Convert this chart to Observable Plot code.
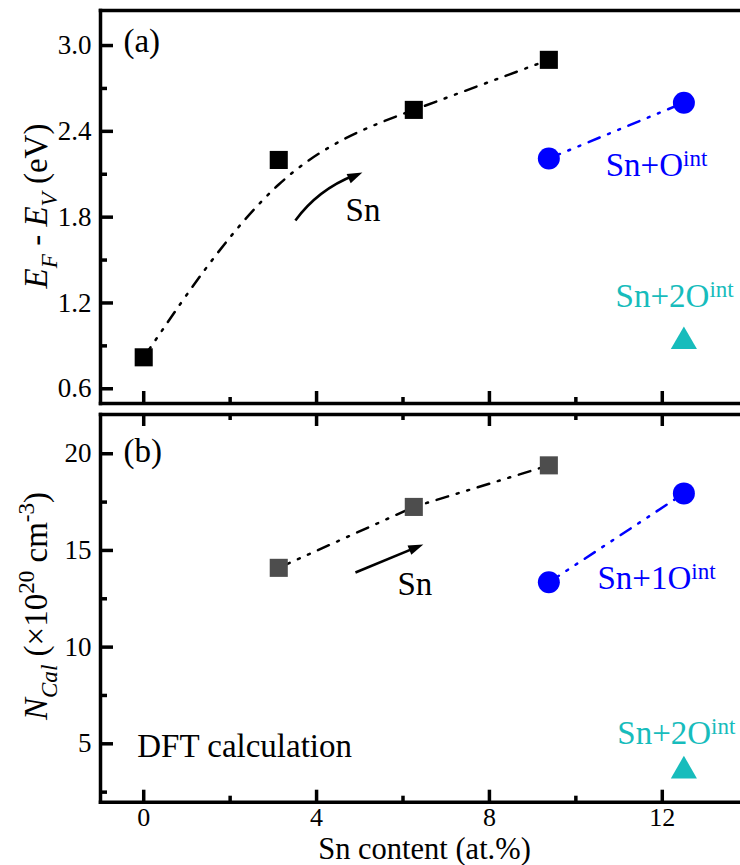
<!DOCTYPE html>
<html><head><meta charset="utf-8">
<script src="https://cdn.jsdelivr.net/npm/d3@7"></script>
<script src="https://cdn.jsdelivr.net/npm/@observablehq/plot@0.6"></script>
<style>
body{margin:0;background:#fff;}
#chart{width:740px;height:865px;background:#fff;}
#chart svg{display:block;}
</style></head><body><div id="chart"></div>
<script>
// ---- data ----
const snContent = [0, 3.125, 6.25, 9.375];
const efSn = [0.82, 2.20, 2.55, 2.90];
const oContent = [9.375, 12.5];
const efO = [2.21, 2.60];
const o2Content = [12.5];
const ef2O = [0.93];

const snContentB = [3.125, 6.25, 9.375];
const nSn = [14.1, 17.25, 19.4];
const oContentB = [9.375, 12.5];
const nO = [13.35, 17.95];
const o2ContentB = [12.5];
const n2O = [3.6];

const xTicks = [0, 4, 8, 12];
const xMinor = [2, 6, 10];
const yTicksA = [0.6, 1.2, 1.8, 2.4, 3.0];
const yMinorA = [0.9, 1.5, 2.1, 2.7];
const yTicksB = [5, 10, 15, 20];
const yMinorB = [2.5, 7.5, 12.5, 17.5];

const xLabel = "Sn content (at.%)";
const annA = [
  {label: "Sn+O", sup: "int", x: 12.48, y: 2.09, color: "#0000ff"},
  {label: "Sn+2O", sup: "int", x: 13.09, y: 1.17, color: "#17bcbc"}
];
const annB = [
  {label: "Sn+1O", sup: "int", x: 12.67, y: 13.02, color: "#0000ff"},
  {label: "Sn+2O", sup: "int", x: 13.13, y: 5.0, color: "#17bcbc"}
];
const textA = [{t: "(a)", x: -0.47, y: 2.958}, {t: "Sn", x: 4.67, y: 1.772}];
const textB = [{t: "(b)", x: -0.47, y: 19.55}, {t: "Sn", x: 5.87, y: 12.67}, {t: "DFT calculation", x: -0.15, y: 4.31}];
const arrowA = [{x1: 3.51, y1: 1.777, x2: 5.06, y2: 2.112}];
const arrowB = [{x1: 4.90, y1: 13.86, x2: 6.47, y2: 15.31}];

// ---- layout ----
const W = 740, ML = 100, MR = 0, FW = W - ML - MR;
const FONT = '"Liberation Serif","Times New Roman",serif';
const XDOM = [-1.0, 13.81];
const DASH = "12,9,2,9,2,9";
const BLUE = "#0000ff", CYAN = "#17bcbc", GRAY = "#4d4d4d";
const style = {fontFamily: FONT, fontSize: "27px", color: "#000", background: "#fff", overflow: "visible"};

// filled arrow head, tip at the origin, pointing up
const headSymbol = {draw(ctx) { ctx.moveTo(0, 0); ctx.lineTo(5, 15); ctx.lineTo(-5, 15); ctx.closePath(); }};

const pts = (xs, ys) => xs.map((x, i) => ({x, y: ys[i]}));

function annMarks(ann) {
  return [
    Plot.text(ann, {x: "x", y: "y", text: "label", fill: "color", textAnchor: "end", lineAnchor: "bottom", fontSize: 33, fontFamily: FONT}),
    Plot.text(ann, {x: "x", y: "y", text: "sup", fill: "color", textAnchor: "start", lineAnchor: "bottom", dy: -10, fontSize: 23, fontFamily: FONT})
  ];
}
function textMarks(arr) {
  return Plot.text(arr, {x: "x", y: "y", text: "t", textAnchor: "start", lineAnchor: "bottom", fontSize: 33, fill: "#000", fontFamily: FONT});
}
function arrowMarks(arr, bend, rotate) {
  return [
    Plot.arrow(arr, {x1: "x1", y1: "y1", x2: "x2", y2: "y2", bend, headLength: 0, insetEnd: 9, strokeWidth: 2.6, stroke: "#000", strokeLinecap: "butt"}),
    Plot.dot(arr, {x: "x2", y: "y2", symbol: headSymbol, rotate, fill: "#000", stroke: "none"})
  ];
}
function frameMarks() {
  return [
    Plot.frame({anchor: "top", stroke: "#000", strokeWidth: 3.5, strokeLinecap: "square"}),
    Plot.frame({anchor: "bottom", stroke: "#000", strokeWidth: 3.5, strokeLinecap: "square"}),
    Plot.frame({anchor: "left", stroke: "#000", strokeWidth: 3.5, strokeLinecap: "square"})
  ];
}
function richText(svg, x, y, parts, fs) {
  const t = d3.select(svg).append("text")
    .attr("transform", `translate(${x},${y}) rotate(-90)`)
    .attr("text-anchor", "middle").attr("font-family", FONT)
    .attr("font-size", fs).attr("fill", "#000");
  let shift = 0;
  for (const p of parts) {
    const ts = t.append("tspan").text(p.t);
    const target = p.sub ? 0.3 * fs : p.sup ? -0.38 * fs : 0;
    if (target - shift !== 0) ts.attr("dy", target - shift);
    shift = target;
    if (p.sub || p.sup) ts.attr("font-size", fs * 0.7);
    if (p.it) ts.attr("font-style", "italic");
  }
}

// ---- panel (a) ----
const HA = 406, MTA = 10, MBA = 3, PHA = HA - MTA - MBA;
const plotA = Plot.plot({
  width: W, height: HA, marginLeft: ML, marginRight: MR, marginTop: MTA, marginBottom: MBA,
  style,
  x: {domain: XDOM, axis: null},
  y: {domain: [0.497, 3.245], axis: null},
  marks: [
    Plot.line(pts(snContent, efSn), {x: "x", y: "y", curve: "basis", stroke: "#000", strokeWidth: 2.5, strokeDasharray: DASH}),
    Plot.line(pts(oContent, efO), {x: "x", y: "y", stroke: BLUE, strokeWidth: 2.5, strokeDasharray: DASH}),
    Plot.dot(pts(snContent, efSn), {x: "x", y: "y", symbol: "square", r: 10.2, fill: "#000"}),
    Plot.dot(pts(oContent, efO), {x: "x", y: "y", symbol: "circle", r: 11, fill: BLUE}),
    Plot.dot(pts(o2Content, ef2O), {x: "x", y: "y", symbol: "triangle", r: 9.7, fill: CYAN}),
    ...arrowMarks(arrowA, 18, 66),
    ...annMarks(annA),
    textMarks(textA),
    Plot.tickY(yTicksA, {y: d => d, insetRight: FW - 13, stroke: "#000", strokeWidth: 3.5}),
    Plot.tickY(yMinorA, {y: d => d, insetRight: FW - 7, stroke: "#000", strokeWidth: 3.5}),
    Plot.tickX(xTicks, {x: d => d, insetTop: PHA - 12, stroke: "#000", strokeWidth: 3.5}),
    Plot.tickX(xMinor, {x: d => d, insetTop: PHA - 6, stroke: "#000", strokeWidth: 3.5}),
    Plot.axisY(yTicksA, {tickSize: 0, tickPadding: 9, label: null, tickFormat: d3.format(".1f"), fontSize: 27, fontFamily: FONT}),
    ...frameMarks()
  ]
});
richText(plotA, 47, 206, [
  {t: "E", it: true}, {t: "F", it: true, sub: true}, {t: " - "},
  {t: "E", it: true}, {t: "V", it: true, sub: true}, {t: " (eV)"}
], 33);

// ---- panel (b) ----
const HB = 459, MTB = 8, MBB = 63.3, PHB = HB - MTB - MBB;
const plotB = Plot.plot({
  width: W, height: HB, marginLeft: ML, marginRight: MR, marginTop: MTB, marginBottom: MBB,
  style,
  x: {domain: XDOM, axis: null},
  y: {domain: [1.98, 22.03], axis: null},
  marks: [
    Plot.line(pts(snContentB, nSn), {x: "x", y: "y", stroke: "#000", strokeWidth: 2.5, strokeDasharray: DASH}),
    Plot.line(pts(oContentB, nO), {x: "x", y: "y", stroke: BLUE, strokeWidth: 2.5, strokeDasharray: DASH}),
    Plot.dot(pts(snContentB, nSn), {x: "x", y: "y", symbol: "square", r: 10.2, fill: GRAY}),
    Plot.dot(pts(oContentB, nO), {x: "x", y: "y", symbol: "circle", r: 11, fill: BLUE}),
    Plot.dot(pts(o2ContentB, n2O), {x: "x", y: "y", symbol: "triangle", r: 9.7, fill: CYAN}),
    ...arrowMarks(arrowB, 0, 67.6),
    ...annMarks(annB),
    textMarks(textB),
    Plot.tickY(yTicksB, {y: d => d, insetRight: FW - 13, stroke: "#000", strokeWidth: 3.5}),
    Plot.tickY(yMinorB, {y: d => d, insetRight: FW - 7, stroke: "#000", strokeWidth: 3.5}),
    Plot.tickX(xTicks, {x: d => d, insetTop: PHB - 12, stroke: "#000", strokeWidth: 3.5}),
    Plot.tickX(xMinor, {x: d => d, insetTop: PHB - 6, stroke: "#000", strokeWidth: 3.5}),
    Plot.tickX(xTicks, {x: d => d, insetBottom: PHB - 12, stroke: "#000", strokeWidth: 3.5}),
    Plot.tickX(xMinor, {x: d => d, insetBottom: PHB - 6, stroke: "#000", strokeWidth: 3.5}),
    Plot.axisY(yTicksB, {tickSize: 0, tickPadding: 9, label: null, fontSize: 27, fontFamily: FONT}),
    Plot.axisX(xTicks, {tickSize: 0, tickPadding: 5.5, label: null, fontSize: 26, fontFamily: FONT}),
    Plot.text([xLabel], {text: d => d, frameAnchor: "bottom", lineAnchor: "bottom", dy: 56.5, dx: 4, fontSize: 30.5, fill: "#000", fontFamily: FONT}),
    ...frameMarks()
  ]
});
richText(plotB, 47, 200, [
  {t: "N", it: true}, {t: "Cal", it: true, sub: true}, {t: " (×10"},
  {t: "20", sup: true}, {t: " cm"}, {t: "-3", sup: true}, {t: ")"}
], 33);

const chart = document.getElementById("chart");
chart.appendChild(plotA);
chart.appendChild(plotB);
</script>
</body></html>
